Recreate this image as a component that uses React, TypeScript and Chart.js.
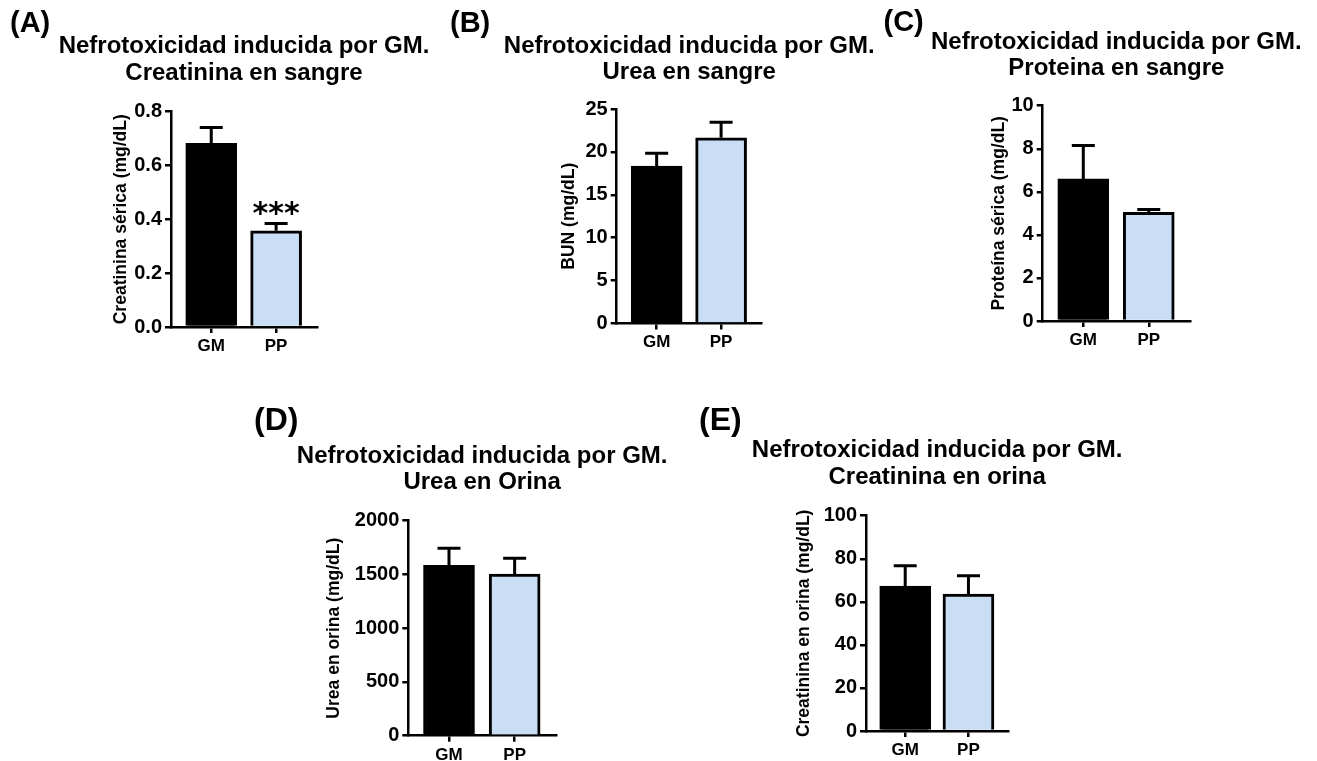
import React, { useEffect, useRef } from "react";
import { Chart, registerables } from "chart.js";

Chart.register(...registerables);

// ---------- DATA ----------
const categories = ["GM", "PP"];

const creatSangreMean = [0.682, 0.357];
const creatSangreSem = [0.059, 0.027];
const creatSangreTicks = [0, 0.2, 0.4, 0.6, 0.8];
const creatSangreSig = ["", "***"];

const bunMean = [18.35, 21.65];
const bunSem = [1.5, 1.8];
const bunTicks = [0, 5, 10, 15, 20, 25];

const protMean = [6.6, 5.05];
const protSem = [1.55, 0.13];
const protTicks = [0, 2, 4, 6, 8, 10];

const ureaOrinaMean = [1585, 1504];
const ureaOrinaSem = [158, 146];
const ureaOrinaTicks = [0, 500, 1000, 1500, 2000];

const creatOrinaMean = [67.3, 63.6];
const creatOrinaSem = [9.5, 8.5];
const creatOrinaTicks = [0, 20, 40, 60, 80, 100];

const titleLine1 = "Nefrotoxicidad inducida por GM.";

// ---------- STYLE / LAYOUT ----------
const FONT = '"Liberation Sans", Arial, Helvetica, sans-serif';
const barColors = ["#000000", "#c9ddf5"];
const X_AXIS_H = 25;
const X_MIN = -0.62;
const X_MAX = 1.63;

type PanelSpec = {
  id: string;
  letter: string;
  title: string[];
  yTitle: string;
  means: number[];
  sems: number[];
  ticks: number[];
  decimals: number;
  sig?: string[];
  box: { left: number; top: number; width: number; height: number };
  plot: { L: number; R: number; T: number; B: number };
  yTitleX: number;
  letterX: number;
  letterY: number;
  letterSize: number;
  titleY: number[];
};

const panels: PanelSpec[] = [
  {
    id: "A",
    letter: "(A)",
    title: [titleLine1, "Creatinina en sangre"],
    yTitle: "Creatinina sérica (mg/dL)",
    means: creatSangreMean,
    sems: creatSangreSem,
    ticks: creatSangreTicks,
    decimals: 1,
    sig: creatSangreSig,
    box: { left: 0, top: 0, width: 440, height: 375 },
    plot: { L: 171, R: 317, T: 111.5, B: 327 },
    yTitleX: 121.5,
    letterX: 10,
    letterY: 32,
    letterSize: 29,
    titleY: [53.3, 79.5],
  },
  {
    id: "B",
    letter: "(B)",
    title: [titleLine1, "Urea en sangre"],
    yTitle: "BUN (mg/dL)",
    means: bunMean,
    sems: bunSem,
    ticks: bunTicks,
    decimals: 0,
    box: { left: 440, top: 0, width: 440, height: 375 },
    plot: { L: 616.7, R: 761.7, T: 109, B: 323.5 },
    yTitleX: 569,
    letterX: 450,
    letterY: 32,
    letterSize: 29,
    titleY: [53.3, 79],
  },
  {
    id: "C",
    letter: "(C)",
    title: [titleLine1, "Proteina en sangre"],
    yTitle: "Proteína sérica (mg/dL)",
    means: protMean,
    sems: protSem,
    ticks: protTicks,
    decimals: 0,
    box: { left: 880, top: 0, width: 437, height: 375 },
    plot: { L: 1042.7, R: 1190, T: 105.7, B: 321 },
    yTitleX: 999,
    letterX: 883.5,
    letterY: 31,
    letterSize: 29,
    titleY: [49.3, 75],
  },
  {
    id: "D",
    letter: "(D)",
    title: [titleLine1, "Urea en Orina"],
    yTitle: "Urea en orina (mg/dL)",
    means: ureaOrinaMean,
    sems: ureaOrinaSem,
    ticks: ureaOrinaTicks,
    decimals: 0,
    box: { left: 230, top: 385, width: 460, height: 376 },
    plot: { L: 408.3, R: 556, T: 520.7, B: 735.7 },
    yTitleX: 334,
    letterX: 254,
    letterY: 430,
    letterSize: 32,
    titleY: [462.7, 489],
  },
  {
    id: "E",
    letter: "(E)",
    title: [titleLine1, "Creatinina en orina"],
    yTitle: "Creatinina en orina (mg/dL)",
    means: creatOrinaMean,
    sems: creatOrinaSem,
    ticks: creatOrinaTicks,
    decimals: 0,
    box: { left: 690, top: 385, width: 627, height: 376 },
    plot: { L: 866, R: 1008.3, T: 515.7, B: 731 },
    yTitleX: 804,
    letterX: 699,
    letterY: 430,
    letterSize: 32,
    titleY: [457.3, 484],
  },
];

function makeConfig(p: PanelSpec): any {
  const ox = p.box.left;
  const oy = p.box.top;
  const yTitleFont = 17.5;
  const yTitleHalf = (yTitleFont * 1.2) / 2;
  const scaleLeft = p.yTitleX - yTitleHalf; // page coords
  const yAxisW = p.plot.L - scaleLeft;

  const textPlugin = {
    id: "panelText" + p.id,
    afterDraw(chart: any) {
      const ctx = chart.ctx;
      const ca = chart.chartArea;
      ctx.save();
      ctx.fillStyle = "#000";
      ctx.textAlign = "left";
      ctx.textBaseline = "alphabetic";
      ctx.font = `bold ${p.letterSize}px ${FONT}`;
      ctx.fillText(p.letter, p.letterX - ox, p.letterY - oy);
      ctx.font = `bold 24px ${FONT}`;
      ctx.textAlign = "center";
      const mid = (ca.left + ca.right) / 2;
      p.title.forEach((t, i) => ctx.fillText(t, mid, p.titleY[i] - oy));
      ctx.restore();
    },
  };

  const errorPlugin = {
    id: "errorBars" + p.id,
    afterDatasetsDraw(chart: any) {
      const meta = chart.getDatasetMeta(0);
      const ys = chart.scales.y;
      const ctx = chart.ctx;
      ctx.save();
      ctx.strokeStyle = "#000";
      ctx.lineWidth = 3;
      ctx.lineCap = "butt";
      p.means.forEach((m, i) => {
        const bar = meta.data[i];
        const x = bar.x;
        const y0 = ys.getPixelForValue(m);
        const y1 = ys.getPixelForValue(m + p.sems[i]);
        ctx.beginPath();
        ctx.moveTo(x, y0);
        ctx.lineTo(x, y1);
        ctx.moveTo(x - 11.5, y1);
        ctx.lineTo(x + 11.5, y1);
        ctx.stroke();
        if (p.sig && p.sig[i]) {
          ctx.fillStyle = "#000";
          ctx.font = 'bold 30px "DejaVu Sans", sans-serif';
          ctx.textAlign = "center";
          ctx.textBaseline = "alphabetic";
          ctx.fillText(p.sig[i], x, y1 - 1);
        }
      });
      ctx.restore();
    },
  };

  const axisGrid = {
    display: true,
    drawOnChartArea: false,
    drawTicks: true,
    offset: false,
    tickLength: 6,
    color: "#000",
    lineWidth: 2.5,
  };
  const axisBorder = { display: true, color: "#000", width: 2.5 };

  return {
    type: "bar",
    data: {
      datasets: [
        {
          data: p.means.map((v, i) => ({ x: i, y: v })),
          backgroundColor: barColors,
          borderColor: "#000",
          borderWidth: 3,
          borderSkipped: "start",
          barThickness: 51,
        },
      ],
    },
    options: {
      responsive: false,
      animation: false,
      events: [],
      layout: {
        padding: {
          left: scaleLeft - ox,
          top: p.plot.T - oy,
          right: ox + p.box.width - p.plot.R,
          bottom: oy + p.box.height - p.plot.B - X_AXIS_H,
        },
      },
      plugins: {
        legend: { display: false },
        tooltip: { enabled: false },
        title: { display: false },
      },
      scales: {
        x: {
          type: "linear",
          offset: false,
          min: X_MIN,
          max: X_MAX,
          afterBuildTicks: (s: any) => {
            s.ticks = categories.map((_, i) => ({ value: i }));
          },
          afterFit: (s: any) => {
            s.height = X_AXIS_H;
          },
          grid: axisGrid,
          border: axisBorder,
          ticks: {
            autoSkip: false,
            maxRotation: 0,
            padding: 3,
            color: "#000",
            font: { family: FONT, size: 17, weight: "bold" },
            callback: (v: any) => categories[Math.round(Number(v))] ?? "",
          },
        },
        y: {
          type: "linear",
          min: p.ticks[0],
          max: p.ticks[p.ticks.length - 1],
          afterBuildTicks: (s: any) => {
            s.ticks = p.ticks.map((v) => ({ value: v }));
          },
          afterFit: (s: any) => {
            s.width = yAxisW;
          },
          grid: axisGrid,
          border: axisBorder,
          ticks: {
            autoSkip: false,
            padding: 3,
            color: "#000",
            font: { family: FONT, size: 20, weight: "bold" },
            callback: (v: any) => Number(v).toFixed(p.decimals),
          },
          title: {
            display: true,
            text: p.yTitle,
            color: "#000",
            padding: { top: 0, bottom: 0 },
            font: { family: FONT, size: yTitleFont, weight: "bold", lineHeight: 1.2 },
          },
        },
      },
    },
    plugins: [errorPlugin, textPlugin],
  };
}

function Panel({ p }: { p: PanelSpec }) {
  const ref = useRef<HTMLCanvasElement>(null);
  useEffect(() => {
    if (!ref.current) return;
    const chart = new Chart(ref.current, makeConfig(p));
    return () => chart.destroy();
  }, [p]);
  return (
    <canvas
      ref={ref}
      width={p.box.width}
      height={p.box.height}
      style={{
        position: "absolute",
        left: p.box.left,
        top: p.box.top,
        width: p.box.width,
        height: p.box.height,
      }}
    />
  );
}

export default function App() {
  return (
    <div
      style={{
        position: "absolute",
        left: 0,
        top: 0,
        width: 1317,
        height: 761,
        background: "#ffffff",
        overflow: "hidden",
      }}
    >
      {panels.map((p) => (
        <Panel key={p.id} p={p} />
      ))}
    </div>
  );
}
